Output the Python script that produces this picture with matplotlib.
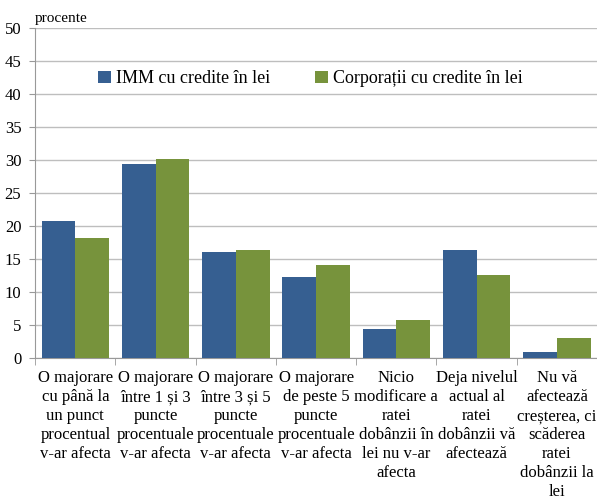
import matplotlib.pyplot as plt
import numpy as np

plt.rcParams['font.family'] = ['Liberation Serif', 'DejaVu Serif']

categories = [
    "O majorare\ncu până la\nun punct\nprocentual\nv-ar afecta",
    "O majorare\nîntre 1 și 3\npuncte\nprocentuale\nv-ar afecta",
    "O majorare\nîntre 3 și 5\npuncte\nprocentuale\nv-ar afecta",
    "O majorare\nde peste 5\npuncte\nprocentuale\nv-ar afecta",
    "Nicio\nmodificare a\nratei\ndobânzii în\nlei nu v-ar\nafecta",
    "Deja nivelul\nactual al\nratei\ndobânzii vă\nafectează",
    "Nu vă\nafectează\ncreșterea, ci\nscăderea\nratei\ndobânzii la\nlei",
]
imm = [20.7, 29.3, 16.1, 12.2, 4.3, 16.4, 0.9]
corp = [18.1, 30.2, 16.3, 14.1, 5.7, 12.6, 3.0]
series_names = ["IMM cu credite în lei", "Corporații cu credite în lei"]

fig = plt.figure(figsize=(5.97, 4.99), dpi=100)
ax = fig.add_axes([0.059, 0.283, 0.941, 0.661])

x = np.arange(len(categories))
w = 0.42
ax.bar(x - w/2, imm, w, color='#365F91', label=series_names[0], zorder=3)
ax.bar(x + w/2, corp, w, color='#77933C', label=series_names[1], zorder=3)

ax.set_xlim(-0.5, len(categories) - 0.5)
ax.set_ylim(0, 50)
ax.set_yticks(np.arange(0, 51, 5))
ax.yaxis.grid(True, color='#BEBEBE', linewidth=1, zorder=0)
ax.tick_params(axis='y', labelsize=12, length=4, color='#999999', pad=6)

ax.set_xticks(x)
ax.set_xticklabels(categories, fontsize=12, linespacing=1.25)
ax.tick_params(axis='x', length=0, pad=9)
ax.set_xticks(np.arange(-0.5, len(categories), 1), minor=True)
ax.tick_params(axis='x', which='minor', length=5, color='#999999')

for s in ['top', 'right']:
    ax.spines[s].set_visible(False)
for s in ['left', 'bottom']:
    ax.spines[s].set_color('#999999')

ax.text(0.0, 1.008, "procente", transform=ax.transAxes, fontsize=11, va='bottom')

leg = ax.legend(loc='upper center', bbox_to_anchor=(0.49, 0.91), ncol=2,
                frameon=True, fancybox=False, edgecolor='white', framealpha=1,
                fontsize=13, handlelength=0.7, handleheight=0.7,
                handletextpad=0.3, columnspacing=2.5, borderpad=0.2)

fig.savefig("out.png", dpi=100)
